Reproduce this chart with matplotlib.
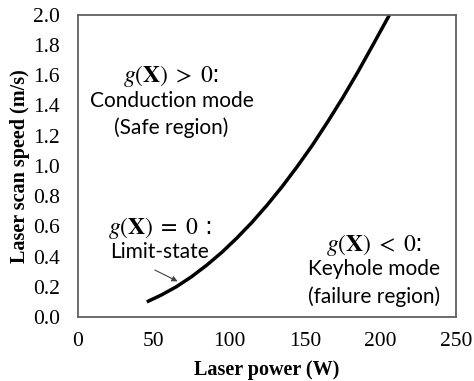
import matplotlib.pyplot as plt

plt.rcParams['mathtext.fontset'] = 'stix'

# limit-state curve
power = [45.5, 55, 65, 75, 85, 95, 105, 115, 125, 135, 145, 155, 165, 175, 185, 195, 206]
speed = [0.10, 0.145, 0.20, 0.266, 0.342, 0.427, 0.522, 0.626, 0.74, 0.863,
         0.996, 1.137, 1.29, 1.45, 1.62, 1.80, 2.0]

xticks = [0, 50, 100, 150, 200, 250]
yticks = [0.0, 0.2, 0.4, 0.6, 0.8, 1.0, 1.2, 1.4, 1.6, 1.8, 2.0]

serif = 'Liberation Serif'
sans = 'Lato'

fig = plt.figure(figsize=(4.74, 3.81), dpi=100)
ax = fig.add_axes([0.1646, 0.168, 0.7974, 0.793])

ax.plot(power, speed, color='black', lw=2.5, solid_capstyle='butt')

ax.set_xlim(0, 250)
ax.set_ylim(0, 2.0)
ax.set_xticks(xticks)
ax.set_yticks(yticks)
ax.set_yticklabels([f'{v:.1f}' for v in yticks])
ax.tick_params(length=0, labelsize=15.5)
ax.tick_params(axis='x', pad=10.5)
ax.tick_params(axis='y', pad=13)
for lab in ax.get_xticklabels() + ax.get_yticklabels():
    lab.set_fontfamily(serif)
for s in ax.spines.values():
    s.set_color('#606060')
    s.set_linewidth(1.3)

ax.set_xlabel('Laser power (W)', fontfamily=serif, fontweight='bold', fontsize=14.5, labelpad=7)
ax.set_ylabel('Laser scan speed (m/s)', fontfamily=serif, fontweight='bold', fontsize=14.5, labelpad=2)

# region labels
ax.text(61.8, 1.595, r'$g(\mathbf{X})\;>\;0$:', ha='center', va='center', fontsize=17)
ax.text(61.8, 1.43, 'Conduction mode', ha='center', va='center', fontsize=15, fontfamily=sans)
ax.text(61.8, 1.256, '(Safe region)', ha='center', va='center', fontsize=15, fontfamily=sans)

ax.text(54.2, 0.59, r'$g(\mathbf{X})\;=\;0$ :', ha='center', va='center', fontsize=17)
ax.text(54.2, 0.43, 'Limit-state', ha='center', va='center', fontsize=15, fontfamily=sans)
ax.annotate('', xy=(67.5, 0.228), xytext=(49.2, 0.319),
            arrowprops=dict(arrowstyle='-|>', color='#404040', lw=0.8, mutation_scale=8))

ax.text(195.8, 0.478, r'$g(\mathbf{X})\;<\;0$:', ha='center', va='center', fontsize=17)
ax.text(195.8, 0.319, 'Keyhole mode', ha='center', va='center', fontsize=15, fontfamily=sans)
ax.text(195.8, 0.133, '(failure region)', ha='center', va='center', fontsize=15, fontfamily=sans)

fig.savefig('out.png', dpi=100)
